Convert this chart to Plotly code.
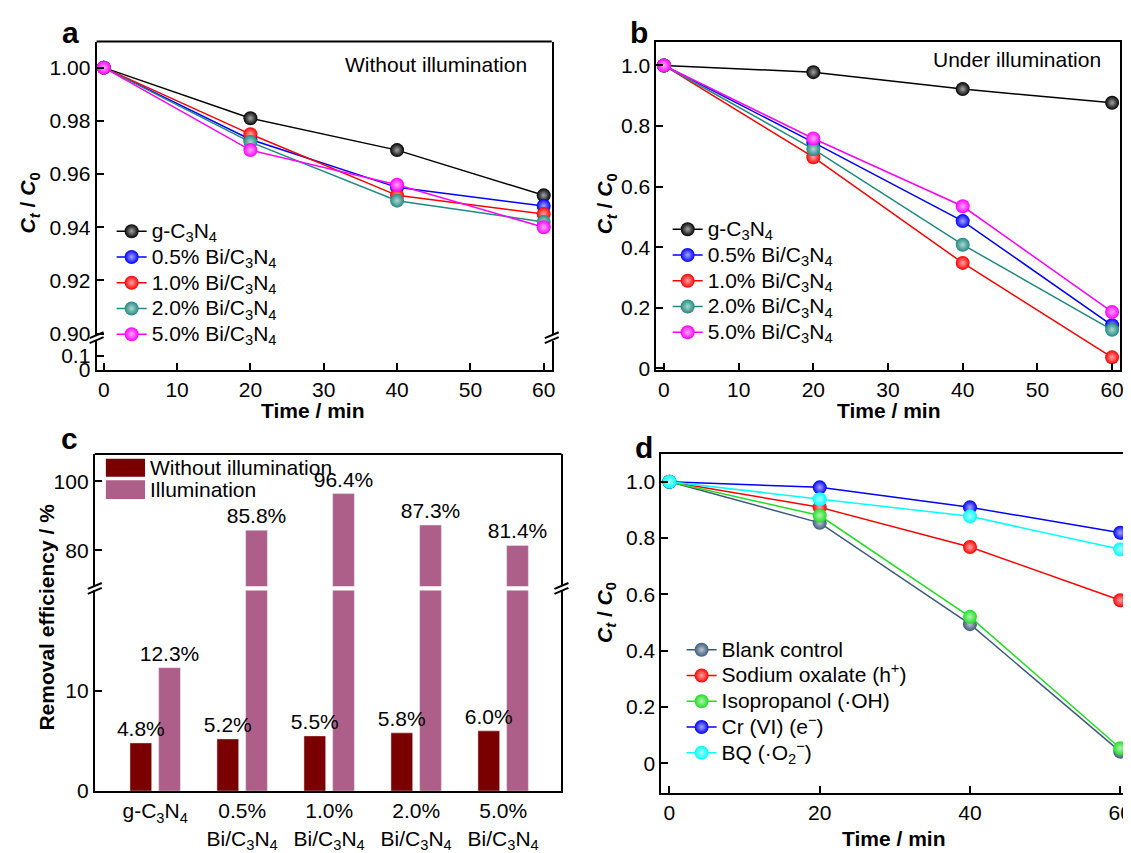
import plotly.graph_objects as go

W, H = 1131, 853
FONT = "Liberation Sans, Arial, sans-serif"


def px(x):
    return x / W


def py(y):
    return 1 - y / H


# ---------------- data ----------------
time_min = [0, 20, 40, 60]

sample_names = [
    "g-C<sub>3</sub>N<sub>4</sub>",
    "0.5% Bi/C<sub>3</sub>N<sub>4</sub>",
    "1.0% Bi/C<sub>3</sub>N<sub>4</sub>",
    "2.0% Bi/C<sub>3</sub>N<sub>4</sub>",
    "5.0% Bi/C<sub>3</sub>N<sub>4</sub>",
]
sample_colors = ["#000000", "#0000ff", "#ff0000", "#208a80", "#ff00ff"]

# (a) without illumination, Ct/C0
dark_gc3n4 = [1.000, 0.981, 0.969, 0.952]
dark_bi05 = [1.000, 0.973, 0.955, 0.948]
dark_bi10 = [1.000, 0.975, 0.952, 0.945]
dark_bi20 = [1.000, 0.972, 0.950, 0.942]
dark_bi50 = [1.000, 0.969, 0.956, 0.940]

# (b) under illumination, Ct/C0
light_gc3n4 = [1.000, 0.978, 0.922, 0.877]
light_bi05 = [1.000, 0.746, 0.486, 0.142]
light_bi10 = [1.000, 0.697, 0.348, 0.036]
light_bi20 = [1.000, 0.724, 0.408, 0.127]
light_bi50 = [1.000, 0.759, 0.535, 0.186]

# (c) removal efficiency, %
c_categories = ["g-C3N4", "0.5% Bi/C3N4", "1.0% Bi/C3N4", "2.0% Bi/C3N4", "5.0% Bi/C3N4"]
c_ticktext = [
    "g-C<sub>3</sub>N<sub>4</sub>",
    "0.5%<br>Bi/C<sub>3</sub>N<sub>4</sub>",
    "1.0%<br>Bi/C<sub>3</sub>N<sub>4</sub>",
    "2.0%<br>Bi/C<sub>3</sub>N<sub>4</sub>",
    "5.0%<br>Bi/C<sub>3</sub>N<sub>4</sub>",
]
removal_dark = [4.8, 5.2, 5.5, 5.8, 6.0]
removal_light = [12.3, 85.8, 96.4, 87.3, 81.4]

# (d) scavenger experiments, Ct/C0
scav_names = [
    "Blank control",
    "Sodium oxalate (h<sup>+</sup>)",
    "Isopropanol (·OH)",
    "Cr (VI) (e<sup>−</sup>)",
    "BQ (·O<sub>2</sub><sup>−</sup>)",
]
scav_colors = ["#3b5a7a", "#ff0000", "#22dd22", "#0000ff", "#00ffff"]
scav_blank = [1.000, 0.854, 0.494, 0.041]
scav_oxalate = [1.000, 0.909, 0.768, 0.579]
scav_ipa = [1.000, 0.880, 0.520, 0.053]
scav_cr = [1.000, 0.980, 0.909, 0.819]
scav_bq = [1.000, 0.938, 0.877, 0.760]

# --------------- helpers ---------------


def lighten(hexc, f):
    hexc = hexc.lstrip("#")
    r, g, b = (int(hexc[i:i + 2], 16) for i in (0, 2, 4))
    r = int(r + (255 - r) * f)
    g = int(g + (255 - g) * f)
    b = int(b + (255 - b) * f)
    return f"#{r:02x}{g:02x}{b:02x}"


def ball(color):
    return dict(size=14, color=color, line=dict(width=0),
                gradient=dict(type="radial", color=lighten(color, 0.65)))


def big(s):
    return f'<span style="font-size:21px">{s}</span>'


fig = go.Figure()

# ---- panel a ----
for name, col, vals in zip(sample_names, sample_colors,
                           [dark_gc3n4, dark_bi05, dark_bi10, dark_bi20, dark_bi50]):
    fig.add_trace(go.Scatter(x=time_min, y=vals, name=big(name), mode="lines+markers",
                             line=dict(color=col, width=1.5), marker=ball(col),
                             xaxis="x", yaxis="y", legend="legend"))
# empty trace so that the lower (broken) segment of panel a exists
fig.add_trace(go.Scatter(x=[None], y=[None], xaxis="x", yaxis="y2",
                         showlegend=False, hoverinfo="skip"))

# ---- panel b ----
for name, col, vals in zip(sample_names, sample_colors,
                           [light_gc3n4, light_bi05, light_bi10, light_bi20, light_bi50]):
    fig.add_trace(go.Scatter(x=time_min, y=vals, name=big(name), mode="lines+markers",
                             line=dict(color=col, width=1.5), marker=ball(col),
                             xaxis="x2", yaxis="y3", legend="legend2"))

# ---- panel c ----
C_DARK = "#7a0000"
C_LIGHT = "#ad5e89"
LOW_TOP = 20.0
UP_BOT = 69.6
bar_common = dict(width=0.25, textposition="outside", cliponaxis=False,
                  constraintext="none", showlegend=False,
                  textfont=dict(family=FONT, size=21, color="black"))
# lower segment
fig.add_trace(go.Bar(x=c_categories, y=removal_light, offset=0.04, marker_color=C_LIGHT,
                     text=[f"{v:.1f}%" if v < LOW_TOP else "" for v in removal_light],
                     xaxis="x3", yaxis="y4", **bar_common))
fig.add_trace(go.Bar(x=c_categories, y=removal_dark, offset=-0.29, marker_color=C_DARK,
                     text=[f"{v:.1f}%" for v in removal_dark],
                     xaxis="x3", yaxis="y4", **bar_common))
# upper segment
fig.add_trace(go.Bar(x=c_categories, y=removal_light, offset=0.04, marker_color=C_LIGHT,
                     text=[f"{v:.1f}%" if v > UP_BOT else "" for v in removal_light],
                     xaxis="x3", yaxis="y5", **bar_common))

# ---- panel d ----
for name, col, vals in zip(scav_names, scav_colors,
                           [scav_blank, scav_oxalate, scav_ipa, scav_cr, scav_bq]):
    fig.add_trace(go.Scatter(x=time_min, y=vals, name=big(name), mode="lines+markers",
                             line=dict(color=col, width=1.5), marker=ball(col),
                             xaxis="x4", yaxis="y6", legend="legend3"))

# --------------- axes ---------------
tickfont = dict(family=FONT, size=21, color="black")
ax = dict(showgrid=False, zeroline=False, showline=True, linecolor="black", linewidth=2,
          ticks="inside", ticklen=7, tickwidth=2, tickcolor="black", tickfont=tickfont,
          ticklabeloverflow="allow")

unit_ticks = [0, 0.2, 0.4, 0.6, 0.8, 1.0]
unit_text = ["0", "0.2", "0.4", "0.6", "0.8", "1.0"]

fig.update_layout(
    xaxis=dict(**ax, domain=[px(88.9), px(545.7)], range=[-0.98, 61.1], anchor="y2",
               mirror=False, tickvals=[0, 10, 20, 30, 40, 50, 60]),
    yaxis=dict(**ax, domain=[py(331), py(34)], range=[0.8996, 1.0098], anchor="x",
               mirror=True, tickvals=[0.90, 0.92, 0.94, 0.96, 0.98, 1.00], tickformat=".2f"),
    yaxis2=dict(**ax, domain=[py(366.5), py(337)], range=[0, 0.21], anchor="x",
                mirror=True, tickvals=[0, 0.1], ticktext=["0", "0.1"]),
    xaxis2=dict(**ax, domain=[px(650.7), px(1116.4)], range=[-1.01, 61.12], anchor="y3",
                mirror=True, tickvals=[0, 10, 20, 30, 40, 50, 60]),
    yaxis3=dict(**ax, domain=[py(366.5), py(34)], range=[-0.005, 1.079], anchor="x2",
                mirror=True, tickvals=unit_ticks, ticktext=unit_text),
    xaxis3=dict(showgrid=False, zeroline=False, showline=True, linecolor="black", linewidth=2,
                ticks="", tickfont=tickfont, domain=[px(87.1), px(555.4)], type="category",
                range=[-0.694, 4.67], anchor="y4", mirror=False,
                tickvals=c_categories, ticktext=c_ticktext),
    yaxis4=dict(**ax, domain=[py(793.3), py(590)], range=[0, LOW_TOP], anchor="x3",
                mirror=True, tickvals=[0, 10]),
    yaxis5=dict(**ax, domain=[py(585.7), py(451.7)], range=[UP_BOT, 107.9], anchor="x3",
                mirror=True, tickvals=[80, 100]),
    xaxis4=dict(**ax, domain=[px(655.8), px(1124.5)], range=[-1.06, 61.1], anchor="y6",
                mirror=True, tickvals=[0, 20, 40, 60]),
    yaxis6=dict(**ax, domain=[py(795), py(451.7)], range=[-0.105, 1.099], anchor="x4",
                mirror=True, tickvals=unit_ticks, ticktext=unit_text),
)

legend_common = dict(xanchor="left", yanchor="top", bgcolor="rgba(0,0,0,0)",
                     font=dict(family=FONT, size=17.5, color="black"),
                     tracegroupgap=0, itemwidth=30, traceorder="normal")
fig.update_layout(
    legend=dict(**legend_common, x=px(104), y=py(208)),
    legend2=dict(**legend_common, x=px(662), y=py(206)),
    legend3=dict(**legend_common, x=px(676), y=py(632)),
    barmode="overlay",
    width=W, height=H, margin=dict(l=0, r=0, t=0, b=0),
    paper_bgcolor="white", plot_bgcolor="white",
    font=dict(family=FONT, color="black"),
)

# --------------- decorations ---------------
shapes = []
# top frame lines for broken-axis panels
shapes.append(dict(type="line", xref="paper", yref="paper", x0=px(88.9), x1=px(545.7),
                   y0=py(34), y1=py(34), line=dict(color="black", width=2)))
shapes.append(dict(type="line", xref="paper", yref="paper", x0=px(87.1), x1=px(555.4),
                   y0=py(451.7), y1=py(451.7), line=dict(color="black", width=2)))


def brk(xc, yc):
    out = []
    for dy in (-2.5, 2.5):
        out.append(dict(type="line", xref="paper", yref="paper",
                        x0=px(xc - 7), y0=py(yc + dy + 3), x1=px(xc + 7), y1=py(yc + dy - 3),
                        line=dict(color="black", width=2)))
    return out


for (bx, by) in [(88.9, 334), (545.7, 334), (87.1, 588), (555.4, 588)]:
    shapes += brk(bx, by)

# legend swatches for panel c
shapes.append(dict(type="rect", xref="paper", yref="paper", x0=px(98.2), x1=px(137.5),
                   y0=py(475), y1=py(456.7), fillcolor=C_DARK, line=dict(width=0)))
shapes.append(dict(type="rect", xref="paper", yref="paper", x0=px(98.2), x1=px(137.5),
                   y0=py(497.3), y1=py(478.3), fillcolor=C_LIGHT, line=dict(width=0)))
fig.update_layout(shapes=shapes)

ann = []


def text(x, y, s, size=21, bold=False, xanchor="center", angle=0):
    ann.append(dict(x=px(x), y=py(y), xref="paper", yref="paper", text=s, showarrow=False,
                    xanchor=xanchor, yanchor="middle", textangle=angle,
                    font=dict(family=FONT, size=size, color="black",
                              weight="bold" if bold else "normal")))


# panel letters
text(62.5, 24.5, "a", size=30, bold=True)
text(633.7, 24.5, "b", size=30, bold=True)
text(61.6, 436, "c", size=30, bold=True)
text(638, 445, "d", size=30, bold=True)

# in-plot labels
text(335.7, 57, "Without illumination", xanchor="left")
text(926, 52, "Under illumination", xanchor="left")
text(140, 465.5, "Without illumination", xanchor="left")
text(140, 488, "Illumination", xanchor="left")

# axis titles
ct = "<i>C</i><sub><i>t</i></sub> / <i>C</i><sub>0</sub>"
text(305.5, 408, "Time / min", bold=True)
text(884, 408, "Time / min", bold=True)
text(888.7, 841.7, "Time / min", bold=True)
text(22, 197, ct, bold=True, angle=-90)
text(601, 198, ct, bold=True, angle=-90)
text(600, 612, ct, bold=True, angle=-90)
text(39, 616.7, "Removal efficiency / %", bold=True, angle=-90)

fig.update_layout(annotations=ann)

fig.write_html("out.html")
